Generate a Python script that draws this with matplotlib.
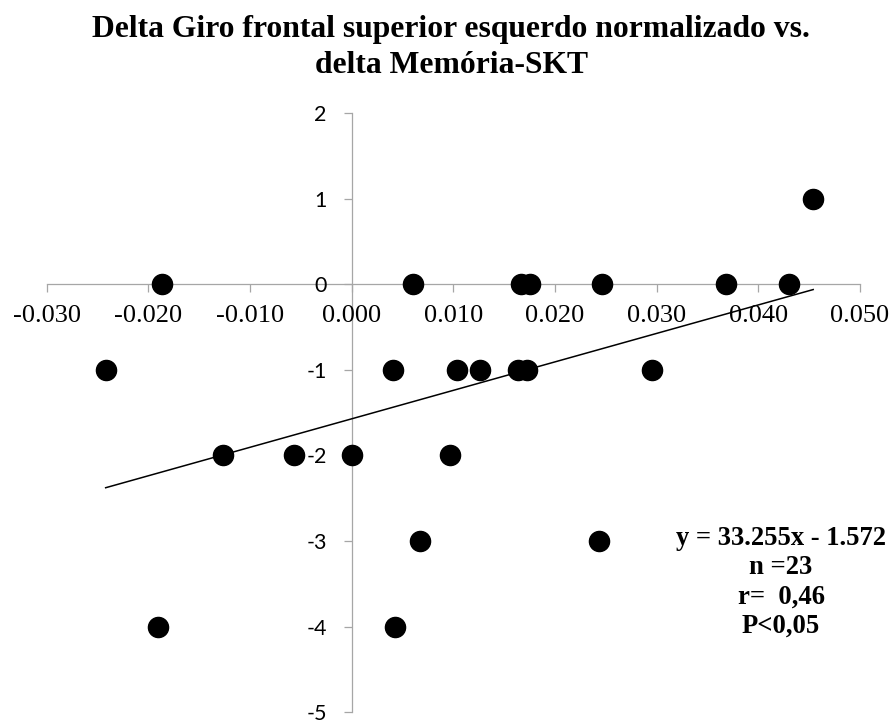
"""
Scatter of delta left superior frontal gyrus (normalized) vs. delta Memória-SKT,
Excel-style axes crossing at the origin, with linear trend line.
"""

import numpy as np
import matplotlib

matplotlib.use("Agg")
import matplotlib.pyplot as plt  # noqa: E402

# ---------------------------------------------------------------------------
# Data
# ---------------------------------------------------------------------------
delta_giro = [
    -0.0187, 0.0060, 0.0167, 0.0175, 0.0246, 0.0368, 0.0430,   # y = 0
    0.0454,                                                    # y = 1
    -0.0242, 0.0041, 0.0104, 0.0126, 0.0164, 0.0172, 0.0295,   # y = -1
    -0.0127, -0.0057, 0.0000, 0.0097,                          # y = -2
    0.0067, 0.0243,                                            # y = -3
    -0.0191, 0.0043,                                           # y = -4
]
delta_skt = [
    0, 0, 0, 0, 0, 0, 0,
    1,
    -1, -1, -1, -1, -1, -1, -1,
    -2, -2, -2, -2,
    -3, -3,
    -4, -4,
]

TREND_SLOPE = 33.255
TREND_INTERCEPT = -1.572

x_ticks = [-0.030, -0.020, -0.010, 0.000, 0.010, 0.020, 0.030, 0.040, 0.050]
y_ticks = [2, 1, 0, -1, -2, -3, -4, -5]

TITLE_LINES = ["Delta Giro frontal superior esquerdo normalizado vs.",
               "delta Memória-SKT"]
STATS_LINES = ["y = 33.255x - 1.572", "n =23", "r=  0,46", "P<0,05"]

AXIS_GRAY = "#a6a6a6"
W_PX, H_PX = 893, 722


def main() -> None:
    fig = plt.figure(figsize=(W_PX / 100, H_PX / 100), dpi=100)
    ax = fig.add_axes([0.0523, 0.0134, 0.9107, 0.8301])

    xs = np.array(delta_giro)
    ys = np.array(delta_skt)

    # trend line over the data range
    x_fit = np.array([xs.min(), xs.max()])
    ax.plot(x_fit, TREND_SLOPE * x_fit + TREND_INTERCEPT,
            color="black", linewidth=1.1, zorder=3)

    ax.plot(xs, ys, linestyle="none", marker="o", markersize=14.5,
            markerfacecolor="black", markeredgecolor="black", zorder=4,
            clip_on=False)

    ax.set_xlim(-0.030, 0.050)
    ax.set_ylim(-5, 2)

    # axes crossing at origin
    ax.spines["left"].set_position(("data", 0))
    ax.spines["bottom"].set_position(("data", 0))
    ax.spines["right"].set_visible(False)
    ax.spines["top"].set_visible(False)
    for side in ("left", "bottom"):
        ax.spines[side].set_color(AXIS_GRAY)
        ax.spines[side].set_linewidth(0.9)
        ax.spines[side].set_zorder(1)

    ax.set_xticks(x_ticks)
    ax.set_xticklabels([f"{v:.3f}" for v in x_ticks],
                       fontfamily="Liberation Serif", fontsize=19)
    ax.set_yticks(y_ticks)
    ax.set_yticklabels([str(v) for v in y_ticks],
                       fontfamily="Lato", fontsize=15.5)
    ax.tick_params(axis="both", direction="out", length=6.0, width=0.9,
                   color=AXIS_GRAY, labelcolor="black")
    ax.tick_params(axis="x", pad=9)
    ax.tick_params(axis="y", pad=12)
    ax.patch.set_visible(False)

    # title, two lines placed by baseline
    for line, base_px in zip(TITLE_LINES, [36.5, 73.0]):
        fig.text(451 / W_PX, 1 - base_px / H_PX, line, ha="center",
                 va="baseline", fontfamily="Liberation Serif",
                 fontweight="bold", fontsize=22.8)

    # regression annotation
    for i, line in enumerate(STATS_LINES):
        base_px = 545 + 29.2 * i
        fig.text(781 / W_PX, 1 - base_px / H_PX, line, ha="center",
                 va="baseline", fontfamily="Liberation Serif",
                 fontweight="bold", fontsize=19.2)

    fig.savefig("out.png", dpi=100)


if __name__ == "__main__":
    main()
